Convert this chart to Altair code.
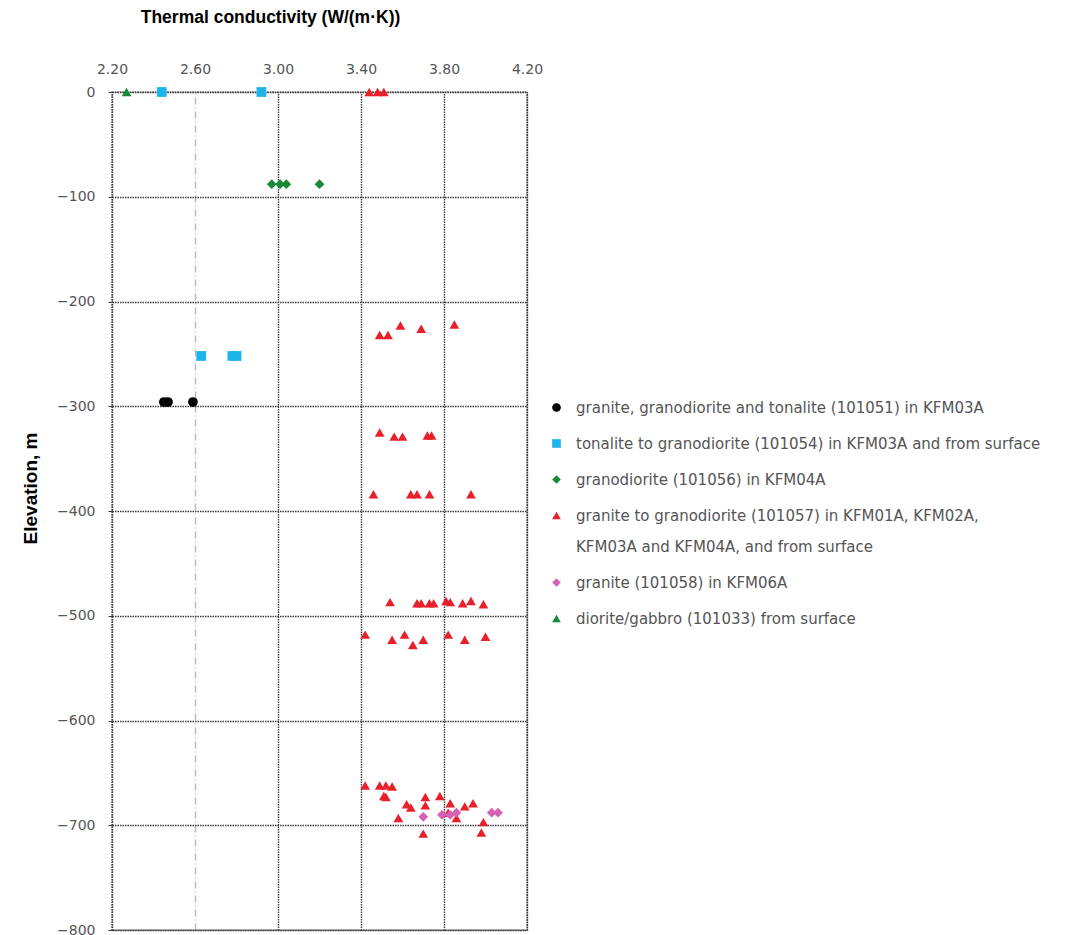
import altair as alt
import pandas as pd

series_names = [
    "granite, granodiorite and tonalite (101051) in KFM03A",
    "tonalite to granodiorite (101054) in KFM03A and from surface",
    "granodiorite (101056) in KFM04A",
    "granite to granodiorite (101057) in KFM01A, KFM02A,\nKFM03A and KFM04A, and from surface",
    "granite (101058) in KFM06A",
    "diorite/gabbro (101033) from surface",
]
colors = ["#000000", "#1cb4ea", "#17893b", "#e8202a", "#d660b6", "#17893b"]
shapes = ["circle", "square", "diamond", "triangle-up", "diamond", "triangle-up"]

# 101051
s1_tc = [2.45, 2.47, 2.59]
s1_el = [-296, -296, -296]
# 101054
s2_tc = [2.44, 2.92, 2.63, 2.78, 2.80]
s2_el = [0, 0, -252, -252, -252]
# 101056
s3_tc = [2.97, 3.01, 3.04, 3.20]
s3_el = [-88, -88, -88, -88]
# 101057
s4_tc = [3.44, 3.48, 3.51,
         3.49, 3.53, 3.59, 3.69, 3.85,
         3.49, 3.56, 3.60, 3.72, 3.74,
         3.46, 3.64, 3.67, 3.73, 3.93,
         3.54, 3.67, 3.69, 3.73, 3.75, 3.81, 3.83, 3.89, 3.93, 3.99,
         3.42, 3.55, 3.61, 3.65, 3.70, 3.82, 3.90, 4.00,
         3.42, 3.49, 3.52, 3.55, 3.51, 3.52, 3.62, 3.64, 3.71, 3.71, 3.78,
         3.83, 3.90, 3.94, 3.58, 3.86, 3.70, 3.99, 3.98, 3.82]
s4_el = [0, 0, 0,
         -232, -232, -223, -226, -222,
         -325, -329, -329, -328, -328,
         -384, -384, -384, -384, -384,
         -487, -488, -488, -488, -488, -486, -487, -488, -486, -489,
         -518, -523, -518, -528, -523, -518, -523, -520,
         -662, -662, -662, -663, -672, -673, -680, -683, -673, -681, -672,
         -679, -682, -679, -693, -693, -708, -697, -707, -688]
# 101058
s5_tc = [3.70, 3.79, 3.83, 3.86, 4.03, 4.06]
s5_el = [-692, -690, -690, -688, -688, -688]
# 101033
s6_tc = [2.27]
s6_el = [0]

x_ticks = [2.2, 2.6, 3.0, 3.4, 3.8, 4.2]
y_ticks = [-800, -700, -600, -500, -400, -300, -200, -100, 0]

rows = []
for name, tcs, els in zip(series_names,
                          [s1_tc, s2_tc, s3_tc, s4_tc, s5_tc, s6_tc],
                          [s1_el, s2_el, s3_el, s4_el, s5_el, s6_el]):
    for t, e in zip(tcs, els):
        rows.append({"tc": t, "elev": e, "series": name})
df = pd.DataFrame(rows)

lab_font = "DejaVu Sans"
grid_color = "#3a3a3a"

chart = alt.Chart(df).mark_point(filled=True, size=95, opacity=1).encode(
    x=alt.X("tc:Q", scale=alt.Scale(domain=[2.2, 4.2], nice=False, zero=False),
            axis=alt.Axis(orient="top", values=x_ticks, format=".2f",
                          title="Thermal conductivity (W/(m·K))",
                          titleFont="Liberation Sans", titleFontSize=17.5, titleFontWeight="bold",
                          titleColor="#000", titleX=158, titleY=-75, titleBaseline="middle",
                          titleAlign="center",
                          labelFont=lab_font, labelFontSize=14, labelColor="#555",
                          labelPadding=16, labelFlush=False, ticks=False, domain=False,
                          grid=True,
                          gridColor=alt.condition("abs(datum.value - 2.6) < 0.01",
                                                  alt.value("#b8b8b8"), alt.value(grid_color)),
                          gridDash=alt.condition("abs(datum.value - 2.6) < 0.01",
                                                 alt.value([7, 3, 1, 3]), alt.value([1.5, 1])),
                          gridWidth=1.4)),
    y=alt.Y("elev:Q", scale=alt.Scale(domain=[-800, 0], nice=False, zero=False),
            axis=alt.Axis(values=y_ticks, format="d", title="Elevation, m",
                          titleFont="Liberation Sans", titleFontSize=19, titleFontWeight="bold",
                          titleColor="#000", titleX=-82, titleY=396, titleAlign="center",
                          titleBaseline="middle", titleAngle=-90,
                          labelFont=lab_font, labelFontSize=14, labelColor="#555",
                          labelPadding=13, tickSize=4, tickColor=grid_color,
                          domain=False,
                          grid=True, gridColor=grid_color, gridDash=[1.5, 1], gridWidth=1.4)),
    color=alt.Color("series:N", scale=alt.Scale(domain=series_names, range=colors),
                    legend=alt.Legend(title=None, orient="none", legendX=437, legendY=308,
                                      labelFont=lab_font, labelFontSize=15, labelColor="#555",
                                      labelLimit=700, labelOffset=12, rowPadding=20,
                                      symbolSize=75, symbolStrokeWidth=0,
                                      labelExpr="split(datum.label, '\\n')")),
    shape=alt.Shape("series:N", scale=alt.Scale(domain=series_names, range=shapes)),
).properties(
    width=415, height=838,
    autosize="none",
    padding={"left": 112, "top": 92, "right": 553, "bottom": 5},
).configure(
    style={"guide-label": {"lineHeight": 31}}
).configure_view(
    stroke=grid_color, strokeDash=[1.5, 1], strokeWidth=1.4
)

chart.save("out.html", embed_options={"renderer": "svg", "actions": False})
